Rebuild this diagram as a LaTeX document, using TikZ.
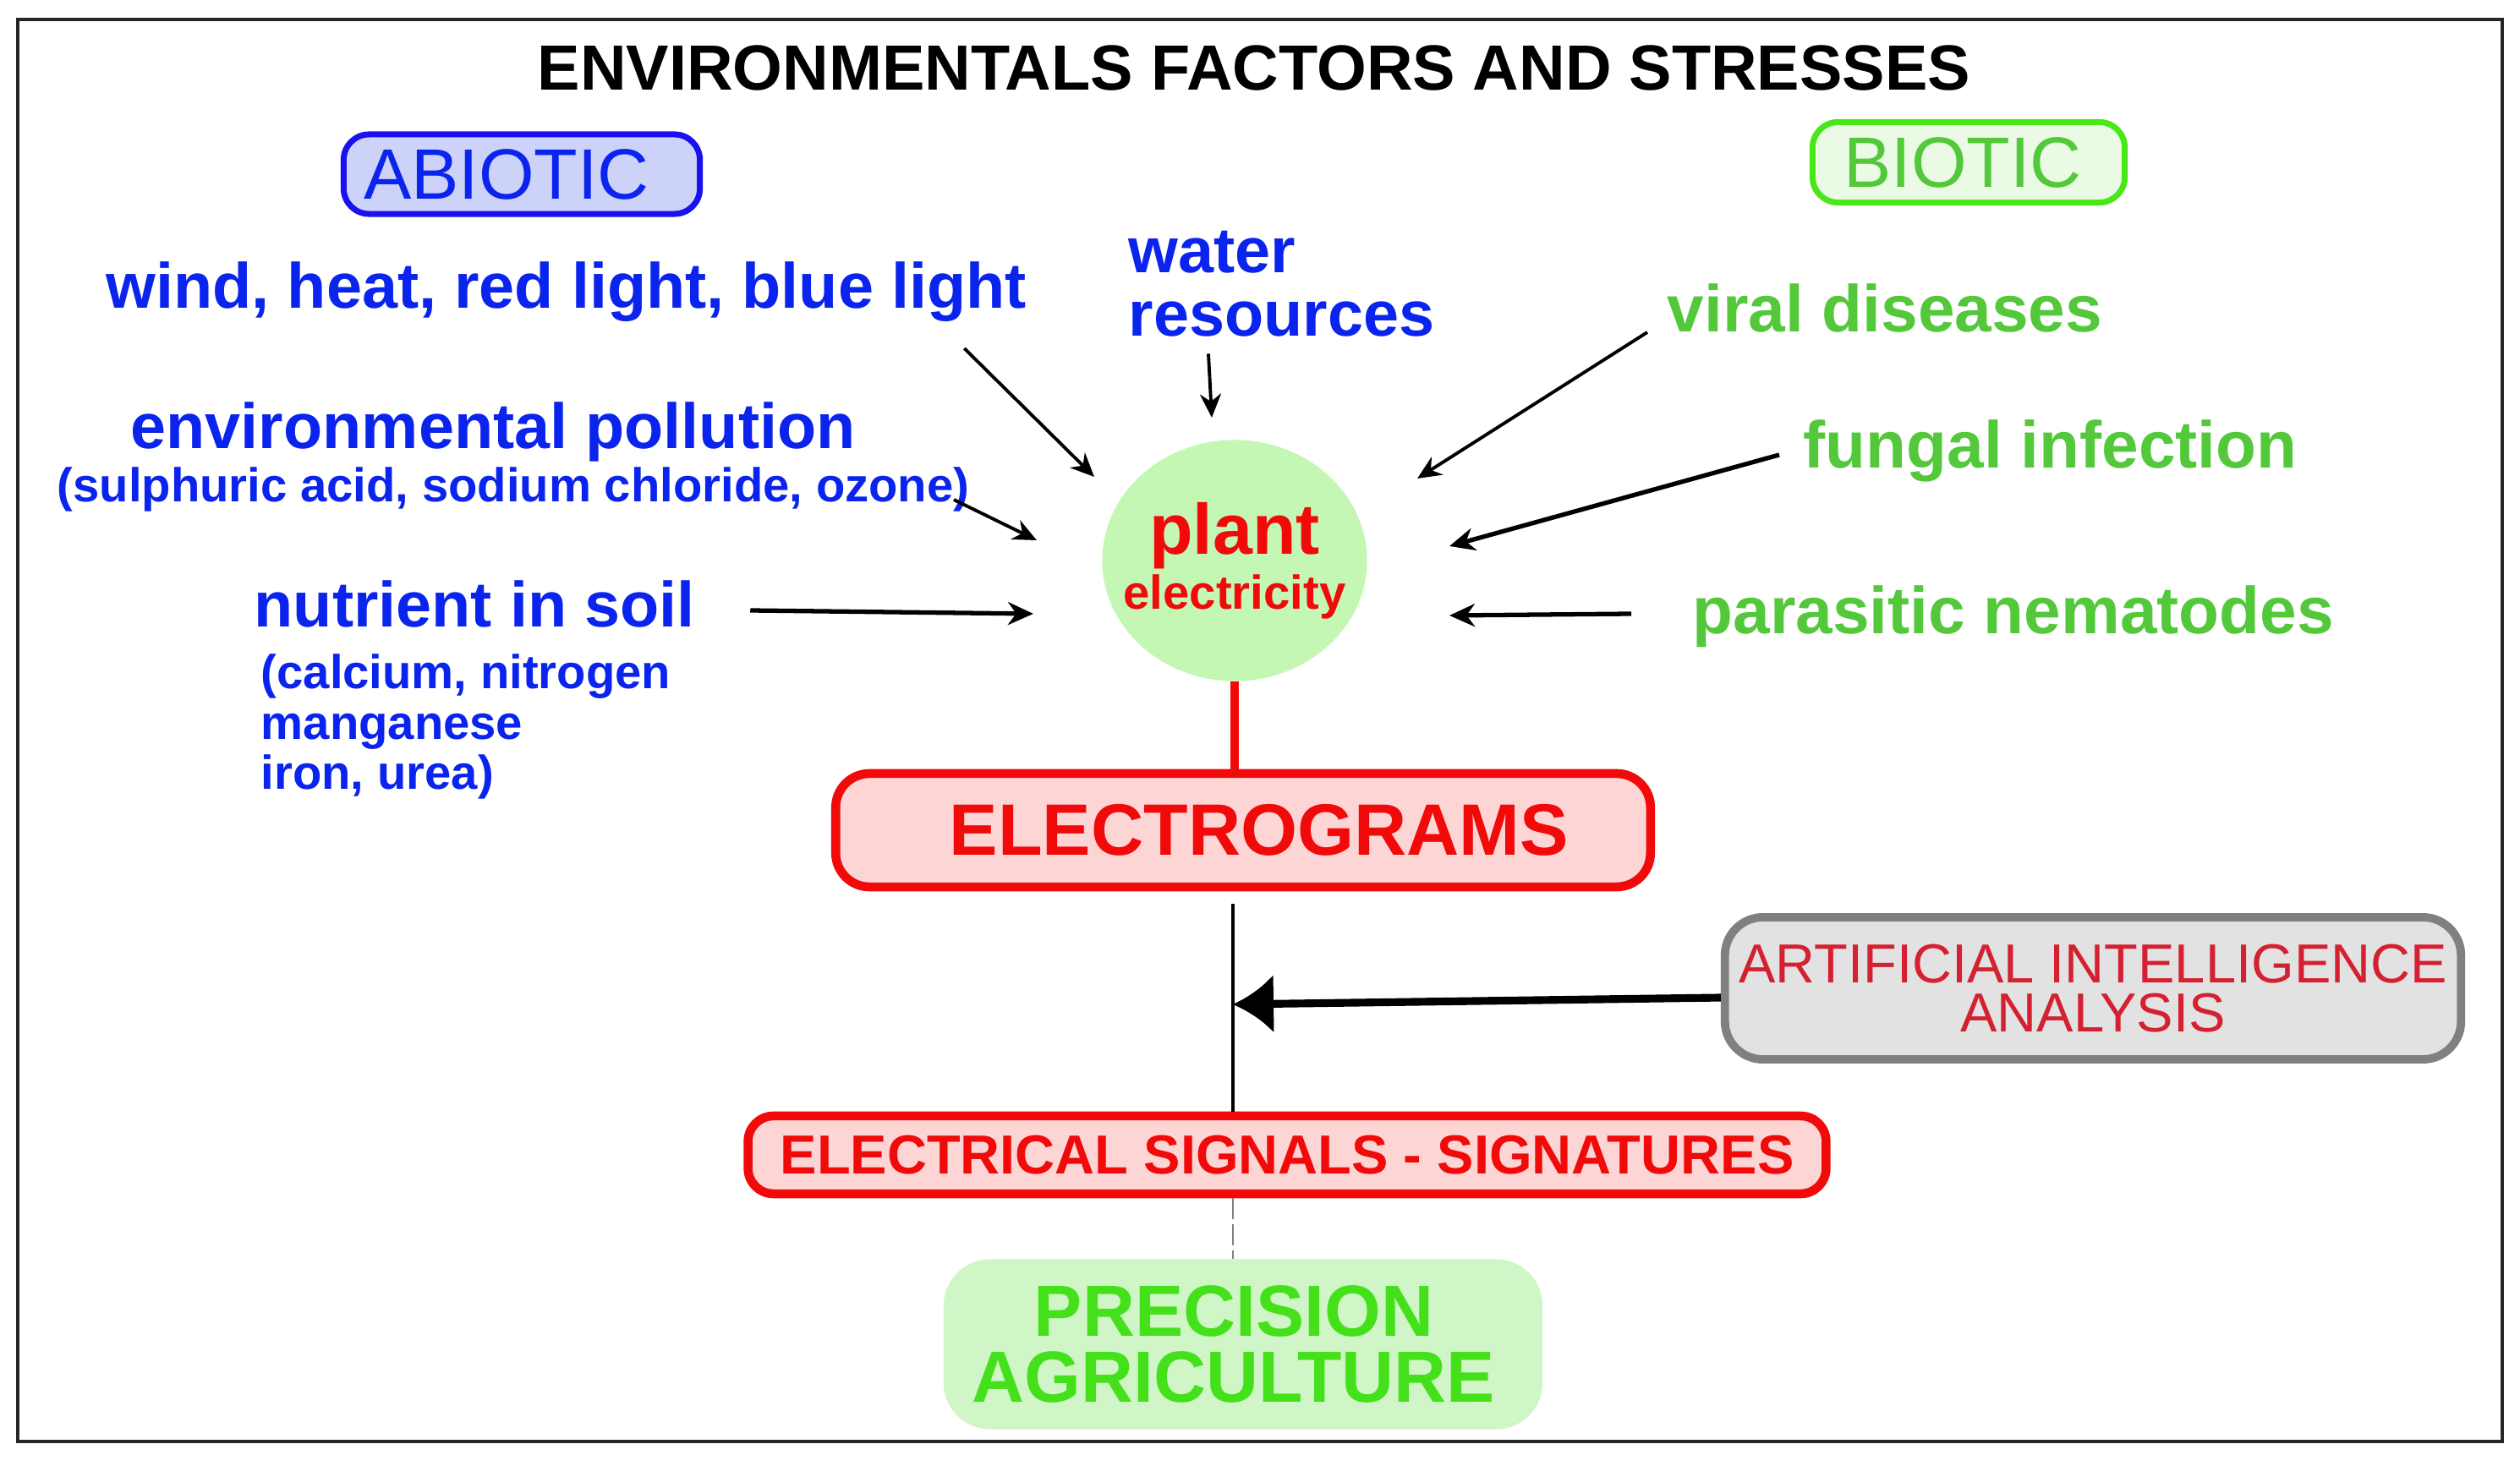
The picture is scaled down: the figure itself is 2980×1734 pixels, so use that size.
\documentclass[tikz,border=0pt]{standalone}
\usepackage{fontspec}
\setmainfont{Liberation Sans}
\usetikzlibrary{arrows.meta,calc,shapes.geometric}
\definecolor{abioblue}{HTML}{0A24EE}
\definecolor{abioline}{HTML}{1A10F0}
\definecolor{abiofill}{HTML}{CCD2F8}
\definecolor{biogreen}{HTML}{52C83A}
\definecolor{bioline}{HTML}{48E818}
\definecolor{biofill}{HTML}{EAFAE4}
\definecolor{plantfill}{HTML}{C4F7B4}
\definecolor{elred}{HTML}{F00A0A}
\definecolor{elfill}{HTML}{FDD5D5}
\definecolor{aigray}{HTML}{808080}
\definecolor{aifill}{HTML}{E2E2E2}
\definecolor{aired}{HTML}{D42030}
\definecolor{precfill}{HTML}{D0F5C6}
\definecolor{precgreen}{HTML}{44E01A}

\begin{document}
\begin{tikzpicture}[x=0.01cm,y=-0.01cm,>=Latex,
abiolbl/.style={inner sep=0pt,anchor=base west,text=abioblue,font=\bfseries\fontsize{21.5}{21.5}\selectfont},
abiosmall/.style={inner sep=0pt,anchor=base west,text=abioblue,font=\bfseries\fontsize{16}{17}\selectfont},
biolbl/.style={inner sep=0pt,anchor=base west,text=biogreen,font=\bfseries\fontsize{22.3}{22.3}\selectfont},
tag/.style={rounded corners=0.3cm,line width=2pt,inner sep=0pt,font=\fontsize{24}{24}\selectfont},
redbox/.style={draw=elred,fill=elfill,line width=3pt,inner sep=0pt,text=elred,font=\bfseries},
arr/.style={->,line width=1.1pt,>={Stealth[length=2.8mm,width=2.5mm]}},
thickarr/.style={->,line width=1.5pt,>={Stealth[length=3mm,width=2.7mm]}}]
\useasboundingbox (0,0) rectangle (2980,1734);
\draw[line width=0.9pt,black!85] (21,23) rectangle (2959,1705);
\node[font=\bfseries\fontsize{21.5}{21.5}\selectfont] (title) at (1483,80) {ENVIRONMENTALS FACTORS AND STRESSES};
% the two families of stresses
\node[tag,draw=abioline,fill=abiofill,text=abioblue,minimum width=4.21cm,minimum height=0.94cm] (abio) at (617,206) {ABIOTIC\hspace*{0.36cm}};
\node[tag,draw=bioline,fill=biofill,text=biogreen,minimum width=3.69cm,minimum height=0.95cm] (bio) at (2328,192) {BIOTIC\hspace*{0.14cm}};
% abiotic factors
\node[abiolbl] (wind) at (125,365) {wind, heat, red light, blue light};
\node[abiolbl,align=left] (water) at (1334,398) {water\\resources};
\node[abiolbl] (pollut) at (154,531) {environmental pollution};
\node[abiosmall] (sulph) at (67,594) {(sulphuric acid, sodium chloride, ozone)};
\node[abiolbl] (soil) at (300,742) {nutrient in soil};
\node[abiosmall,align=left] (minerals) at (308,934) {(calcium, nitrogen\\manganese\\iron, urea)};
% biotic factors
\node[biolbl] (viral) at (1971,393) {viral diseases};
\node[biolbl] (fungal) at (2132,554) {fungal infection};
\node[biolbl] (nema) at (2001,750) {parasitic nematodes};
% plant and the chain below it
\node[ellipse,fill=plantfill,minimum width=3.13cm,minimum height=2.85cm,inner xsep=-0.3cm,inner ysep=0pt,align=center,
  text=elred,font=\bfseries\fontsize{16}{18.4}\selectfont] (plant) at (1460,663)
  {{\fontsize{24}{24}\selectfont plant}\\electricity};
\node[redbox,rounded corners=0.4cm,minimum width=9.63cm,minimum height=1.34cm,
  font=\bfseries\fontsize{24.5}{24.5}\selectfont] (elec) at (1470,982) {\hspace*{0.38cm}ELECTROGRAMS};
\node[draw=aigray,fill=aifill,line width=2.8pt,rounded corners=0.45cm,minimum width=8.7cm,minimum height=1.68cm,
  inner sep=0pt,align=center,text=aired,font=\fontsize{18.5}{16.7}\selectfont] (ai) at (2475,1169)
  {ARTIFICIAL INTELLIGENCE\\ANALYSIS};
\node[redbox,rounded corners=0.3cm,minimum width=12.74cm,minimum height=0.92cm,
  font=\bfseries\fontsize{18.5}{18.5}\selectfont] (sig) at (1522,1366) {ELECTRICAL SIGNALS - SIGNATURES};
\node[fill=precfill,rounded corners=0.55cm,minimum width=7.08cm,minimum height=2.01cm,inner sep=0pt,
  align=center,text=precgreen,font=\bfseries\fontsize{24.4}{22.1}\selectfont] (prec) at (1470,1590)
  {PRECISION\hspace*{0.22cm}\\AGRICULTURE\hspace*{0.22cm}};
\coordinate (join) at (1458,1188);
% arrows into the plant
\coordinate (tipwind) at (1294,564);
\coordinate (tipwater) at (1433,494);
\coordinate (tippol) at (1226,639);
\coordinate (tipsoil) at (1222,726);
\coordinate (tipviral) at (1676,566);
\coordinate (tipfung) at (1714,646);
\coordinate (tipnema) at (1714,728);
\draw[arr] ($(wind.base east)+(-74,47)$)--(tipwind);
\draw[arr] ($(water.south west)+(95,19)$)--(tipwater);
\draw[arr] ($(sulph.base east)+(-19,-3)$)--(tippol);
\draw[thickarr] ($(soil.base east)+(65,-20)$)--(tipsoil);
\draw[arr] ($(viral.base west)+(-23,0)$)--(tipviral);
\draw[thickarr] ($(fungal.base west)+(-28,-16)$)--(tipfung);
\draw[thickarr] ($(nema.base west)+(-72,-24)$)--(tipnema);
% chain
\draw[elred,line width=2.6pt] (plant.south)--(elec.north -| plant.south);
\draw[line width=1pt,shorten <=0.15cm] (join |- elec.south)--(join |- sig.north);
\draw[->,line width=2.6pt,>={Latex[length=4.8mm,width=7mm]}] ([yshift=-0.11cm]ai.west)--(join);
\draw[gray,line width=0.7pt,dash pattern=on 0.25cm off 0.06cm] (join |- sig.south)--(join |- prec.north);
\end{tikzpicture}
\end{document}
